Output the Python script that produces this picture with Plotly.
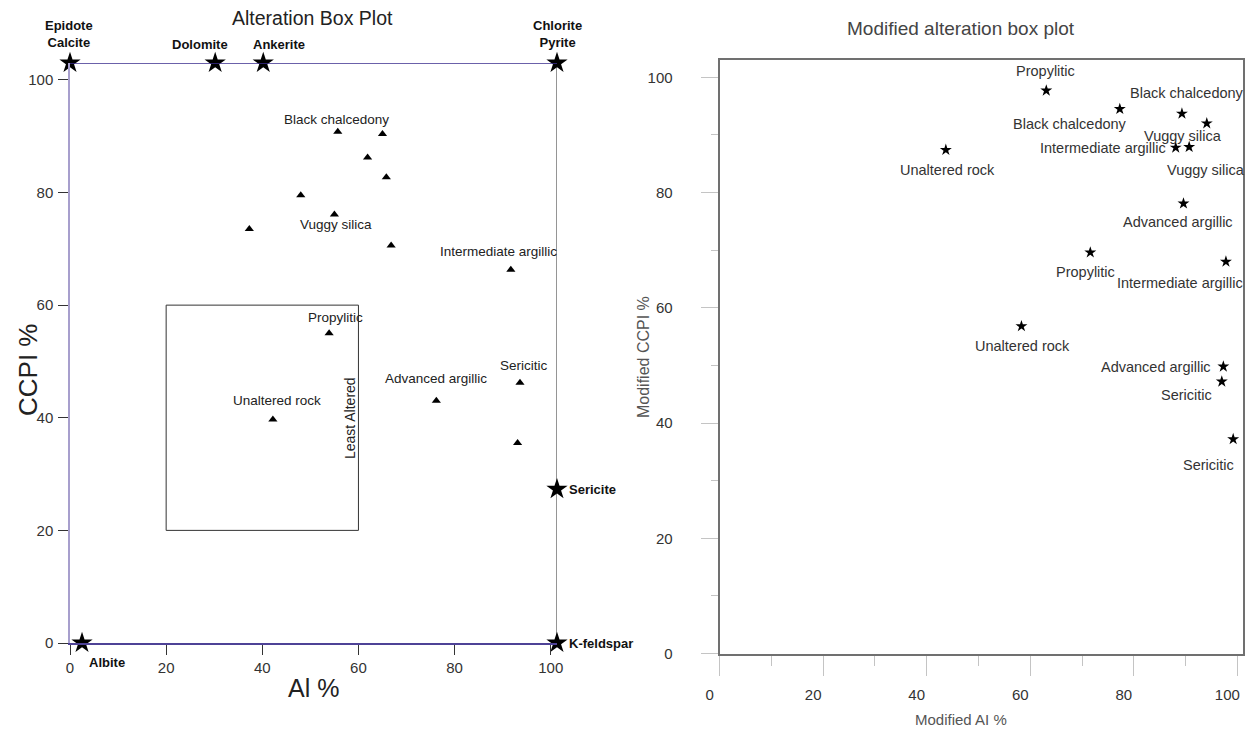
import plotly.graph_objects as go

# ---------------- data ----------------
# Left: Alteration Box Plot (triangles)
ai = [55.7, 65.0, 61.9, 65.8, 48.0, 55.0, 37.3, 66.8, 91.7, 53.9, 93.6, 76.2, 42.2, 93.1]
ccpi = [90.8, 90.4, 86.2, 82.7, 79.5, 76.1, 73.5, 70.6, 66.3, 55.0, 46.2, 43.0, 39.7, 35.5]
ai_labels = ["Black chalcedony", "", "", "", "", "Vuggy silica", "", "", "Intermediate argillic",
             "Propylitic", "Sericitic", "Advanced argillic", "Unaltered rock", ""]

# Left: reference minerals (stars)
minerals = ["Epidote<br>Calcite", "Dolomite", "Ankerite", "Chlorite<br>Pyrite", "Sericite", "K-feldspar", "Albite"]
mineral_ai = [0, 30.2, 40.2, 101.3, 101.3, 101.3, 2.5]
mineral_ccpi = [103, 103, 103, 103, 27.3, 0, 0]

# Least-altered box
box_ai = [20, 60]
box_ccpi = [20, 60]

# Right: Modified alteration box plot (stars)
mod_ai = [63.1, 77.3, 89.3, 94.1, 88.1, 90.7, 43.7, 89.6, 71.6, 97.8, 58.3, 97.3, 97.0, 99.2]
mod_ccpi = [97.7, 94.5, 93.7, 92.0, 87.8, 87.9, 87.4, 78.1, 69.6, 68.0, 56.8, 49.8, 47.2, 37.2]
mod_labels = ["Propylitic", "Black chalcedony", "Black chalcedony", "Vuggy silica", "Intermediate argillic",
              "Vuggy silica", "Unaltered rock", "Advanced argillic", "Propylitic", "Intermediate argillic",
              "Unaltered rock", "Advanced argillic", "Sericitic", "Sericitic"]

tick_vals = [0, 20, 40, 60, 80, 100]

# ---------------- styling / label offsets (pixels) ----------------
NARROW = "Liberation Sans Narrow, Arial Narrow, Liberation Sans, Arial"
REG = "Liberation Sans, Arial"

left_label_off = {0: (-1, -12), 5: (2, 10), 8: (-12, -18), 9: (6, -16), 10: (4, -17), 11: (0, -22), 12: (4, -19)}
mineral_off = [(-1, -29, "center"), (-15, -19, "center"), (16, -19, "center"), (0, -29, "center"),
               (10, 0, "left"), (10, 0, "left"), (25, 19, "center")]
mod_off = [(-1, -20), (-50, 15), (5, -21), (-24, 13), (-73, 0), (17, 23), (2, 20), (-5, 19),
           (-5, 20), (-46, 21), (1, 20), (-67, 0), (-35, 13), (-25, 26)]

W, H = 1247, 729

fig = go.Figure()

fig.add_trace(go.Scatter(x=ai, y=ccpi, mode="markers", xaxis="x", yaxis="y",
                         marker=dict(symbol="triangle-up", size=8, color="black"),
                         cliponaxis=False, showlegend=False))
fig.add_trace(go.Scatter(x=mineral_ai, y=mineral_ccpi, mode="markers", xaxis="x", yaxis="y",
                         marker=dict(symbol="star", size=16, color="black"),
                         cliponaxis=False, showlegend=False))
fig.add_trace(go.Scatter(x=mod_ai, y=mod_ccpi, mode="markers", xaxis="x2", yaxis="y2",
                         marker=dict(symbol="star", size=9, color="black"),
                         cliponaxis=False, showlegend=False))

shapes = [
    dict(type="line", xref="x", yref="y", x0=0, x1=mineral_ai[3], y0=mineral_ccpi[0], y1=mineral_ccpi[0],
         line=dict(color="#3a2c8e", width=1.5), layer="above"),
    dict(type="line", xref="x", yref="y", x0=mineral_ai[3], x1=mineral_ai[3], y0=0, y1=mineral_ccpi[0],
         line=dict(color="#2a2a2a", width=1), layer="below"),
    dict(type="rect", xref="x", yref="y", x0=box_ai[0], x1=box_ai[1], y0=box_ccpi[0], y1=box_ccpi[1],
         line=dict(color="#333333", width=1), layer="below"),
]

annotations = []
for i, t in enumerate(ai_labels):
    if not t:
        continue
    dx, dy = left_label_off[i]
    annotations.append(dict(x=ai[i], y=ccpi[i], xref="x", yref="y", text=t, showarrow=False,
                            xshift=dx, yshift=-dy, font=dict(family=NARROW, size=13.5, color="#222")))
for i, t in enumerate(minerals):
    dx, dy, anc = mineral_off[i]
    annotations.append(dict(x=mineral_ai[i], y=mineral_ccpi[i], xref="x", yref="y",
                            text="<b>" + t.replace("<br>", "</b><br><b>") + "</b>",
                            showarrow=False, xanchor=anc, xshift=dx, yshift=-dy,
                            font=dict(family=REG, size=13, color="#111")))
for i, t in enumerate(mod_labels):
    dx, dy = mod_off[i]
    annotations.append(dict(x=mod_ai[i], y=mod_ccpi[i], xref="x2", yref="y2", text=t, showarrow=False,
                            xshift=dx, yshift=-dy, font=dict(family=NARROW, size=14.5, color="#333")))

annotations.append(dict(x=58.4, y=39.9, xref="x", yref="y", text="Least Altered", textangle=-90,
                        showarrow=False, font=dict(family=REG, size=14, color="#222")))


def paper_text(x, y, text, size, color, family=REG, angle=0):
    return dict(x=x / W, y=1 - y / H, xref="paper", yref="paper", text=text, showarrow=False,
                xanchor="center", yanchor="middle", textangle=angle,
                font=dict(family=family, size=size, color=color))


annotations += [
    paper_text(312, 18, "Alteration Box Plot", 19.5, "#222", NARROW),
    paper_text(313, 688, "Al %", 25, "#222"),
    paper_text(28, 370, "CCPI %", 26, "#222", angle=-90),
    paper_text(961, 28, "Modified alteration box plot", 19, "#444", NARROW),
    paper_text(643, 357, "Modified CCPI %", 16, "#555", angle=-90),
    paper_text(961, 719, "Modified AI %", 15, "#555"),
]

fig.update_layout(
    width=W, height=H,
    margin=dict(l=0, r=0, t=0, b=0, autoexpand=False),
    paper_bgcolor="white", plot_bgcolor="white",
    showlegend=False,
    shapes=shapes,
    annotations=annotations,
    xaxis=dict(domain=[70 / W, 557 / W], range=[0, 101.3], anchor="y", automargin=False,
               tickvals=tick_vals, ticks="outside", ticklen=10, tickcolor="#333",
               showline=True, linecolor="#4e4296", linewidth=1.5,
               showgrid=False, zeroline=False,
               tickfont=dict(family=NARROW, size=15, color="#333")),
    yaxis=dict(domain=[(H - 643) / H, (H - 63) / H], range=[0, 103], anchor="x", automargin=False,
               tickvals=tick_vals, ticks="outside", ticklen=10, tickcolor="#333",
               showline=True, linecolor="#a79fcd", linewidth=1.5,
               showgrid=False, zeroline=False, ticklabelstandoff=2,
               tickfont=dict(family=NARROW, size=15, color="#333")),
    xaxis2=dict(domain=[719.6 / W, 1242.5 / W], range=[0, 101], anchor="y2", automargin=False,
                tickvals=tick_vals, ticks="outside", ticklen=20, tickcolor="#c4c4c4",
                minor=dict(tickvals=[10, 30, 50, 70, 90], ticks="outside", ticklen=10, tickcolor="#c4c4c4"),
                showline=True, mirror=True, linecolor="#707070", linewidth=2,
                showgrid=False, zeroline=False, ticklabelshift=-10, ticklabelstandoff=6,
                tickfont=dict(family=NARROW, size=15, color="#333")),
    yaxis2=dict(domain=[(H - 653.5) / H, (H - 60) / H], range=[0, 103], anchor="x2", automargin=False,
                tickvals=tick_vals, ticks="outside", ticklen=17, tickcolor="#c4c4c4",
                minor=dict(tickvals=[10, 30, 50, 70, 90], ticks="outside", ticklen=7, tickcolor="#c4c4c4"),
                showline=True, mirror=True, linecolor="#707070", linewidth=2,
                showgrid=False, zeroline=False, ticklabelstandoff=25,
                tickfont=dict(family=NARROW, size=15, color="#333")),
)

fig.write_html("out.html", config={"displayModeBar": False},
               post_script="document.body.style.margin='0';")
